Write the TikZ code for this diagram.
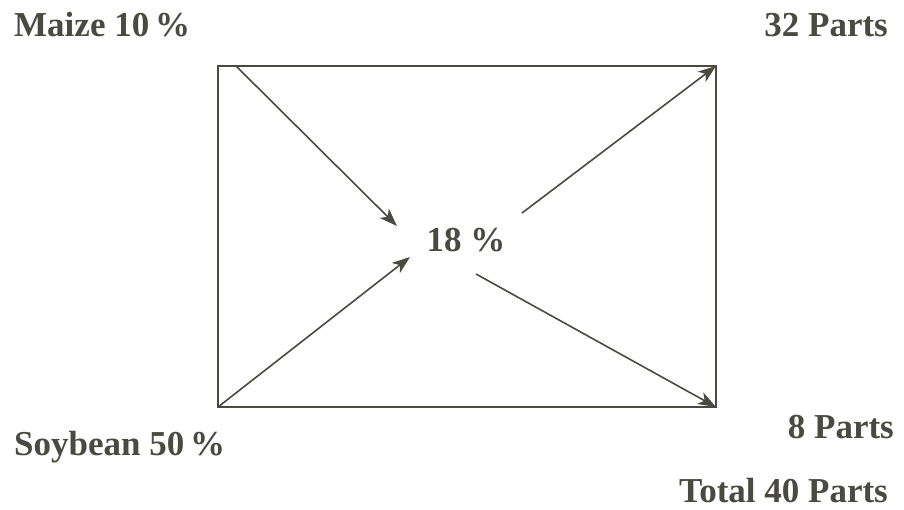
\documentclass[tikz,border=0pt]{standalone}
\usepackage{fontspec}
\setmainfont{Liberation Serif}
\usetikzlibrary{arrows.meta}
\definecolor{ink}{HTML}{4A4A42}
\begin{document}
\begin{tikzpicture}[x=1pt,y=-1pt,
  lbl/.style={text=ink,font=\fontsize{35}{40}\selectfont\bfseries,inner sep=0pt},
  arr/.style={draw=ink,line width=1.6pt,-{Stealth[length=18pt,width=13pt,inset=5pt]}},
  box/.style={draw=ink,line width=1.8pt}]
\useasboundingbox (0,0) rectangle (904,509);
\draw[box] (218,66) rectangle (716,407);
\coordinate (tl) at (218,66);
\coordinate (tls) at (236,66);
\coordinate (tr) at (716,66);
\coordinate (bl) at (218,407);
\coordinate (br) at (716,407);
\coordinate (a1) at (397,226);
\coordinate (a2) at (410,257);
\coordinate (s3) at (522,213);
\coordinate (s4) at (476,274);
\node[lbl] (c) at (466,240) {18 \%};
\draw[arr] (tls) -- (a1);
\draw[arr] (bl) -- (a2);
\draw[arr] (s3) -- (tr);
\draw[arr] (s4) -- (br);
\node[lbl,anchor=west] (maize) at (14,25) {Maize 10\,\%};
\node[lbl,anchor=east] (p32) at (888,25) {32 Parts};
\node[lbl,anchor=west] (soy) at (14,447) {Soybean 50\,\%};
\node[lbl,anchor=east] (p8) at (894,427) {8 Parts};
\node[lbl,anchor=east] (tot) at (888,491) {Total 40 Parts};
\end{tikzpicture}
\end{document}
